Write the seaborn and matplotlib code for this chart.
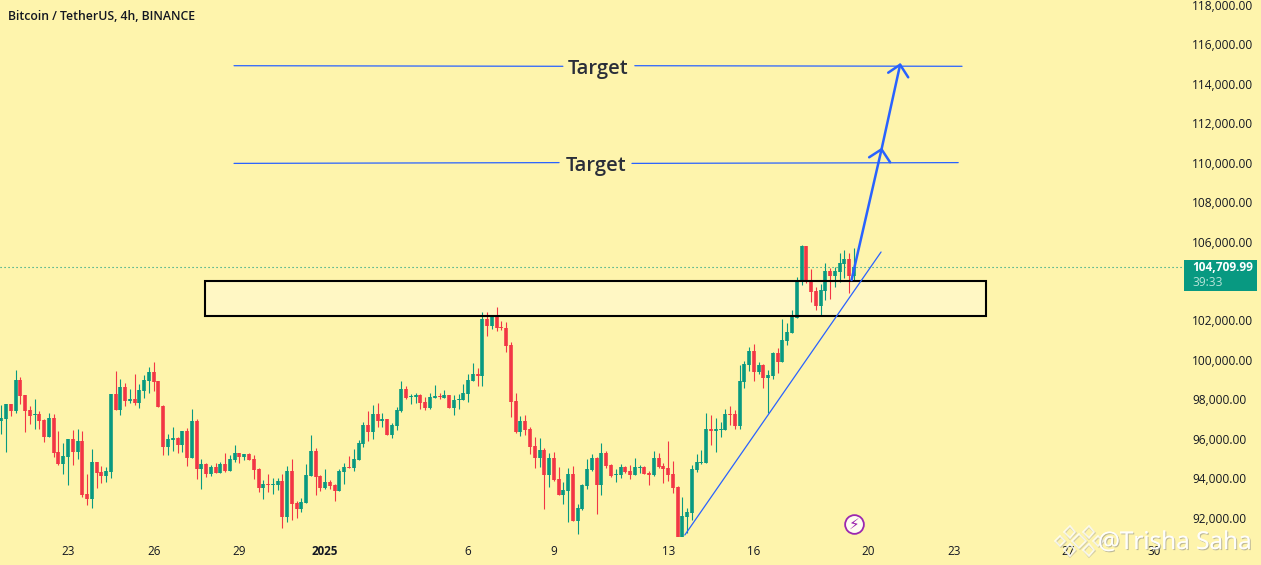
import numpy as np
import pandas as pd
import seaborn as sns
import matplotlib
matplotlib.use("Agg")
import matplotlib.pyplot as plt
import matplotlib.patheffects as pe
from matplotlib.lines import Line2D
from matplotlib.patches import Rectangle

# ---------- data ----------
opens = [96895, 97000, 97760, 97400, 98975, 98215, 97455, 97200, 97250, 96945,
         96085, 97050, 95325, 94715, 95070, 95985, 95325, 95880, 93190, 92940,
         94815, 94310, 94105, 94310, 98265, 97455, 98620, 97910, 98010, 97810,
         98415, 98925, 99380, 98925, 97655, 95575, 95930, 96035, 95680, 96390,
         95020, 96895, 94460, 94715, 94205, 94560, 94255, 94715, 94360, 94920,
         95270, 95070, 95220, 94970, 94460, 93495, 93700, 93650, 93650, 93850,
         92025, 94360, 92735, 92430, 92735, 94105, 95375, 94105, 93495, 93800,
         93650, 93345, 94310, 94560, 94510, 94920, 95730, 96695, 96340, 97250,
         96895, 97000, 96185, 96640, 97400, 98520, 98115, 98115, 98215, 97860,
         97555, 98060, 98165, 98060, 98215, 97555, 97960, 97960, 98265, 98925,
         99280, 99180, 102070, 101715, 102170, 101665, 101615, 100750, 97910, 96335,
         96895, 96490, 95630, 95020, 95425, 94155, 95020, 93950, 93140, 93345,
         94205, 91825, 92430, 93600, 94410, 95020, 93650, 95270, 94665, 94155,
         94155, 94560, 94360, 94155, 94510, 94560, 94260, 94155, 95020, 94610,
         94510, 94205, 93545, 91010, 92025, 92230, 94410, 94765, 94765, 96490,
         96390, 96440, 96440, 97250, 97250, 96640, 98875, 99735, 100445, 99380,
         99735, 99080, 99180, 100345, 99890, 100955, 101360, 102120, 103945, 105775,
         103995, 103490, 102730, 103490, 104505, 104250, 104455, 104860, 105115, 104250]
closes = [97050, 97760, 97400, 98975, 98165, 97400, 97150, 97250, 96895, 96085,
          97050, 95270, 94715, 95120, 95985, 95325, 95880, 93140, 92940, 94815,
          94255, 94105, 94360, 98265, 97455, 98620, 97910, 98010, 97810, 98470,
          98975, 99380, 98875, 97605, 95575, 95985, 96035, 95680, 96390, 95020,
          96895, 94460, 94715, 94205, 94560, 94255, 94715, 94360, 94970, 95270,
          95070, 95220, 94920, 94410, 93495, 93700, 93650, 93700, 93850, 92025,
          94360, 92685, 92430, 92785, 94155, 95375, 94055, 93495, 93800, 93600,
          93345, 94360, 94560, 94510, 94970, 95780, 96695, 96340, 97250, 96895,
          97000, 96185, 96695, 97455, 98520, 98060, 98165, 98215, 97810, 97555,
          98115, 98165, 98115, 98215, 97555, 97960, 98010, 98315, 98975, 99280,
          99180, 102070, 101715, 102170, 101615, 101615, 100700, 97860, 96335, 96895,
          96440, 95575, 95020, 95425, 94155, 95020, 93900, 93140, 93395, 94205,
          91825, 92480, 93650, 94460, 95020, 93650, 95270, 94610, 94105, 94205,
          94560, 94310, 94155, 94560, 94560, 94205, 94155, 95020, 94560, 94460,
          94155, 93495, 91010, 92075, 92280, 94460, 94815, 94815, 96490, 96390,
          96490, 96490, 97250, 97200, 96640, 98925, 99790, 100445, 99380, 99735,
          99080, 99230, 100345, 99890, 101005, 101410, 102220, 103945, 105775, 103945,
          103440, 102730, 103540, 104505, 104250, 104505, 104910, 105115, 104250, 104710]
highs = [97705, 97760, 97760, 99480, 99110, 98215, 97655, 98010, 97400, 97000,
         97300, 97250, 96390, 95780, 95985, 96440, 96490, 96390, 94205, 95475,
         94815, 94610, 94560, 98265, 99430, 99025, 98820, 98520, 99280, 98770,
         99230, 99635, 99890, 98925, 97705, 96235, 96590, 96085, 96390, 96540,
         97505, 97000, 94970, 94765, 94665, 94765, 94815, 95270, 95170, 95680,
         95270, 95220, 95270, 95170, 94510, 93900, 94205, 94005, 94005, 94205,
         94610, 94970, 92835, 92990, 94715, 96185, 95525, 94155, 94460, 93900,
         93700, 94460, 94765, 95120, 95475, 95930, 96845, 97400, 97705, 97810,
         97300, 97000, 96795, 97605, 98925, 98670, 98265, 98315, 98265, 98115,
         98315, 98720, 98315, 98470, 98215, 98215, 98265, 98770, 99280, 99840,
         99585, 102425, 102425, 102275, 102680, 101970, 101920, 100905, 98315, 97150,
         97200, 96590, 96085, 96035, 95525, 95270, 95325, 94560, 93800, 94510,
         94610, 92685, 93700, 94970, 95220, 95070, 95780, 95375, 94715, 94460,
         94715, 94610, 94665, 95020, 94665, 94610, 94360, 95375, 95270, 94765,
         95880, 94865, 93600, 93040, 92480, 94665, 95220, 95425, 97300, 97200,
         97050, 96845, 97505, 97655, 97455, 99735, 99940, 100650, 100800, 99890,
         99790, 99485, 100395, 100600, 102070, 101865, 102525, 104200, 105825, 105775,
         104605, 103695, 103845, 104910, 104655, 104710, 105420, 105570, 105420, 105670]
lows = [96235, 95325, 97150, 97300, 97760, 96340, 96745, 96490, 96490, 95830,
        96085, 95070, 94665, 94205, 93650, 94665, 94970, 93040, 92635, 92480,
        93495, 93750, 93800, 94005, 97455, 97200, 97655, 97810, 97705, 97555,
        98060, 98315, 98415, 97605, 95170, 95170, 95375, 95270, 95325, 94610,
        95020, 93955, 93445, 94055, 94105, 94255, 94255, 94310, 94360, 94815,
        94765, 94920, 94920, 93955, 93295, 92940, 93295, 93190, 93395, 91465,
        91770, 91870, 91975, 92280, 92735, 94105, 93140, 93345, 93445, 93445,
        92835, 93345, 93700, 94510, 94360, 94920, 95575, 95880, 95985, 96590,
        96590, 96185, 96035, 96440, 97350, 98010, 97760, 97810, 97505, 97455,
        97505, 98060, 98010, 98060, 97555, 97200, 97505, 97960, 97860, 98925,
        98670, 98670, 101210, 101560, 101460, 101510, 100395, 97100, 96285, 96135,
        96185, 95220, 94510, 94560, 92430, 93545, 93850, 93140, 92685, 91770,
        91825, 91165, 92380, 93445, 94360, 92180, 93140, 94510, 94055, 93800,
        94005, 94260, 93950, 94155, 94260, 94205, 93650, 94105, 94510, 93750,
        93850, 93245, 91010, 91010, 91215, 91875, 94310, 94715, 94765, 95680,
        95325, 96085, 96440, 96690, 96490, 96490, 98570, 99430, 98925, 99280,
        98570, 97300, 99025, 99330, 99890, 100750, 101360, 102120, 103795, 103895,
        102930, 102525, 102220, 103035, 103085, 103695, 103945, 104150, 103390, 104000]

first_candle = pd.Timestamp("2024-12-20 16:00")
tick_dates = ["2024-12-23", "2024-12-26", "2024-12-29", "2025-01-01", "2025-01-06",
              "2025-01-09", "2025-01-13", "2025-01-16", "2025-01-20", "2025-01-23",
              "2025-01-27", "2025-01-30"]
tick_labels = ["23", "26", "29", "2025", "6", "9", "13", "16", "20", "23", "27", "30"]
price_ticks = [92000, 94000, 96000, 98000, 100000, 102000, 106000, 108000,
               110000, 112000, 114000, 116000, 118000]
last_price = 104709.99
countdown = "39:33"
zone_low, zone_high = 102222, 104000
target_upper = 114905
target_lower = 109984
title = "Bitcoin / TetherUS, 4h, BINANCE"
watermark = "@Trisha Saha"

# ---------- style ----------
BG = "#FEF4AC"
UP = "#089981"
DOWN = "#F23645"
BLUE = "#2962FF"
INK = "#131722"

sns.set_theme(style="white", rc={"axes.facecolor": BG, "figure.facecolor": BG})
plt.rcParams["font.family"] = ["Open Sans", "DejaVu Sans"]

W, H = 1261, 565
fig = plt.figure(figsize=(W / 100, H / 100), dpi=100)
ax = fig.add_axes([0, 28 / H, 1184 / W, 537 / H])
for s in ax.spines.values():
    s.set_visible(False)

# ---------- candles ----------
df = pd.DataFrame({"o": opens, "h": highs, "l": lows, "c": closes})
df["i"] = np.arange(len(df))
df["dir"] = np.where(df["c"] >= df["o"], "up", "down")
palette = {"up": UP, "down": DOWN}

wicks = pd.concat([df.assign(price=df["h"]), df.assign(price=df["l"])])
bodies = pd.concat([df.assign(price=df["o"]), df.assign(price=df["c"])])

# pale fill of the zone sits under the candles
ax.add_patch(Rectangle((42.87, zone_low), 206.7 - 42.87, zone_high - zone_low,
                       facecolor="#FFF7C4", edgecolor="none", zorder=1))

sns.lineplot(data=wicks.sort_values("i"), x="i", y="price", hue="dir", units="i",
             estimator=None, palette=palette, legend=False, sort=False, ax=ax,
             linewidth=0.8, solid_capstyle="butt", zorder=3)
sns.lineplot(data=bodies.sort_values("i"), x="i", y="price", hue="dir", units="i",
             estimator=None, palette=palette, legend=False, sort=False, ax=ax,
             linewidth=2.6, solid_capstyle="butt", zorder=3)

# ---------- axes ----------
ax.set_xlim(-0.273, 248.3)
ax.set_ylim(91011, 118253)
ax.set_xlabel("")
ax.set_ylabel("")
tick_pos = [(pd.Timestamp(d) - first_candle) / pd.Timedelta(hours=4) for d in tick_dates]
ax.set_xticks(tick_pos)
ax.set_xticklabels(tick_labels)
for lab in ax.get_xticklabels():
    if lab.get_text() == "2025":
        lab.set_fontweight("bold")
ax.yaxis.tick_right()
ax.set_yticks(price_ticks)
ax.set_yticklabels([f"{p:,.2f}" for p in price_ticks])
ax.tick_params(axis="x", length=0, pad=6, labelsize=8.4, labelcolor=INK)
ax.tick_params(axis="y", length=0, pad=6, labelsize=8.6, labelcolor=INK)

# ---------- drawings ----------
ax.add_patch(Rectangle((42.87, zone_low), 206.7 - 42.87, zone_high - zone_low,
                       facecolor="none", edgecolor="black", linewidth=1.5, zorder=4))
ax.axhline(last_price, color=UP, lw=0.8, ls=(0, (1, 2.6)), zorder=2)

for x0, x1 in [(48.86, 117.9), (133.0, 201.7)]:
    ax.plot([x0, x1], [target_upper + 15, target_upper - 15], color=BLUE, lw=0.9, zorder=4)
for x0, x1 in [(48.86, 117.1), (132.4, 200.9)]:
    ax.plot([x0, x1], [target_lower - 20, target_lower + 20], color=BLUE, lw=0.9, zorder=4)
ax.text(125.3, target_upper - 150, "Target", ha="center", va="center", fontsize=14.5,
        fontweight="semibold", color="#2A2E39", zorder=5)
ax.text(124.9, target_lower - 170, "Target", ha="center", va="center", fontsize=14.5,
        fontweight="semibold", color="#2A2E39", zorder=5)

# trend line
ax.plot([143.5, 184.7], [91112, 105469], color=BLUE, lw=0.9, zorder=4)

# projected move with two arrow heads
ax.plot([178.5, 184.8, 188.7], [104048, 110679, 114971], color=BLUE, lw=1.8, zorder=5,
        solid_joinstyle="miter")
ax.plot([182.2, 184.8, 186.6], [110273, 110679, 110020], color=BLUE, lw=1.8, zorder=5)
ax.plot([186.2, 188.7, 190.4], [114565, 114971, 114331], color=BLUE, lw=1.8, zorder=5)

# lightning badge
ax.plot([179], [91670], marker="o", ms=13.5, mfc="#FFFDF2", mec="#9C27B0", mew=1.3,
        zorder=6, clip_on=False)
ax.text(179, 91640, "\u26A1", ha="center", va="center", fontsize=11, color="#9C27B0",
        family=["DejaVu Sans"], zorder=7)

# ---------- text around the chart ----------
fig.text(8 / W, 1 - 16.5 / H, title, ha="left", va="center", fontsize=8.8,
         fontweight="semibold", color=INK)

fig.add_artist(Rectangle((1184 / W, 1 - 291 / H), 73 / W, 31 / H, transform=fig.transFigure,
                         facecolor=UP, edgecolor="none", zorder=5))
fig.text(1192 / W, 1 - 268 / H, f"{last_price:,.2f}", ha="left", va="center", fontsize=8.6,
         fontweight="bold", color="white", zorder=6)
fig.text(1192 / W, 1 - 283 / H, countdown, ha="left", va="center", fontsize=8.6,
         color="#B5E3D8", zorder=6)

# watermark
for dx, dy, size in [(0, 0, 7.5), (-9.5, -9, 6), (9.5, -9, 6), (-9.5, 9, 6), (9.5, 9, 6),
                     (-19, 0, 5), (19, 0, 5)]:
    fig.add_artist(Line2D([(1079 + dx) / W], [1 - (541 + dy) / H], transform=fig.transFigure,
                          marker="D", ms=size, mfc="none", mec="#FFFFFF", mew=1.2, ls="none",
                          alpha=0.8, zorder=8,
                          path_effects=[pe.SimpleLineShadow(offset=(0.7, -0.7), shadow_color="#999999", alpha=0.4),
                                        pe.Normal()]))
fig.text(1098 / W, 1 - 543 / H, watermark, ha="left", va="center", fontsize=17.6, color="white",
         alpha=0.85, zorder=9,
         path_effects=[pe.withSimplePatchShadow(offset=(0.8, -0.8), shadow_rgbFace="#8A8A8A", alpha=0.55),
                       pe.Normal()])

fig.savefig("out.png", dpi=100, facecolor=BG)
